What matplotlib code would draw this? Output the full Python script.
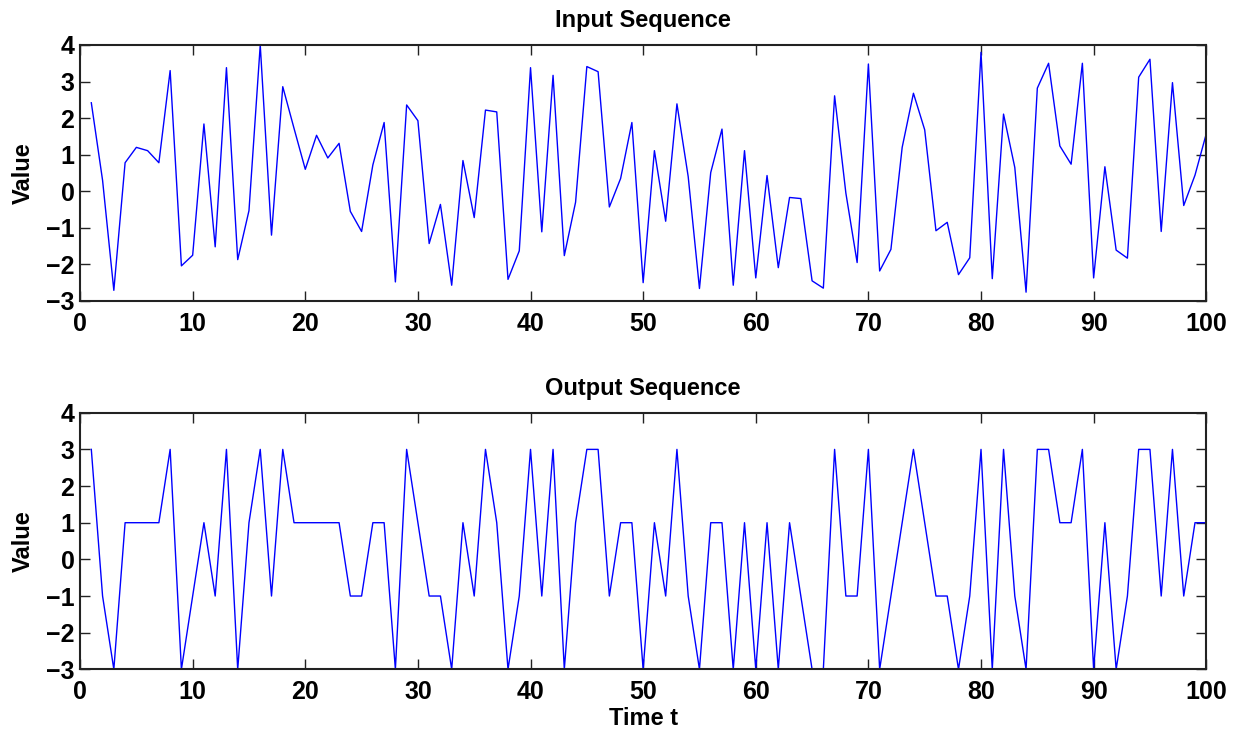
import numpy as np
import matplotlib
matplotlib.use("Agg")
import matplotlib.pyplot as plt

# time steps
t = np.arange(1, 101)

# input sequence
input_seq = [2.42, 0.3, -2.71, 0.78, 1.20, 1.11, 0.78, 3.30, -2.04, -1.75,
             1.84, -1.52, 3.38, -1.87, -0.53, 4.0, -1.2, 2.86, 1.72, 0.60,
             1.53, 0.91, 1.31, -0.55, -1.10, 0.72, 1.88, -2.48, 2.36, 1.93,
             -1.43, -0.36, -2.57, 0.84, -0.72, 2.22, 2.17, -2.41, -1.63, 3.38,
             -1.11, 3.17, -1.76, -0.30, 3.41, 3.27, -0.43, 0.35, 1.88, -2.50,
             1.11, -0.82, 2.39, 0.40, -2.66, 0.51, 1.70, -2.57, 1.11, -2.37,
             0.43, -2.09, -0.17, -0.20, -2.45, -2.65, 2.61, -0.05, -1.95, 3.48,
             -2.18, -1.59, 1.20, 2.68, 1.68, -1.08, -0.85, -2.28, -1.82, 3.80,
             -2.39, 2.11, 0.65, -2.76, 2.82, 3.50, 1.24, 0.74, 3.50, -2.37,
             0.67, -1.61, -1.83, 3.12, 3.61, -1.10, 2.97, -0.39, 0.44, 1.57]

# quantised output sequence
output_seq = [3, -1, -3, 1, 1, 1, 1, 3, -3, -1,
              1, -1, 3, -3, 1, 3, -1, 3, 1, 1,
              1, 1, 1, -1, -1, 1, 1, -3, 3, 1,
              -1, -1, -3, 1, -1, 3, 1, -3, -1, 3,
              -1, 3, -3, 1, 3, 3, -1, 1, 1, -3,
              1, -1, 3, -1, -3, 1, 1, -3, 1, -3,
              1, -3, 1, -1, -3, -3, 3, -1, -1, 3,
              -3, -1, 1, 3, 1, -1, -1, -3, -1, 3,
              -3, 3, -1, -3, 3, 3, 1, 1, 3, -3,
              1, -3, -1, 3, 3, -1, 3, -1, 1, 1]

plt.rcParams['font.family'] = ['Liberation Sans', 'DejaVu Sans']
plt.rcParams['font.weight'] = 'bold'

fig = plt.figure(figsize=(12.41, 7.34), dpi=100)
ax1 = fig.add_axes([0.0645, 0.590, 0.9075, 0.3487])
ax2 = fig.add_axes([0.0645, 0.0881, 0.9075, 0.3496])

panels = [(ax1, input_seq, "Input Sequence"), (ax2, output_seq, "Output Sequence")]
for ax, seq, title in panels:
    ax.plot(t, seq, color=(0, 0, 1), linewidth=1.0)
    ax.set_xlim(0, 100)
    ax.set_ylim(-3, 4)
    ax.set_xticks(range(0, 101, 10))
    ax.set_yticks(range(-3, 5))
    ax.set_title(title, fontsize=17, fontweight='bold', pad=13)
    ax.set_ylabel("Value", fontsize=17, fontweight='bold', labelpad=8)
    ax.tick_params(direction='in', length=7, width=1, top=True, right=True,
                   labelsize=18, colors='#222222', labelcolor='black')
    ax.tick_params(axis='x', pad=8)
    ax.tick_params(axis='y', pad=4)
    for lab in ax.get_xticklabels() + ax.get_yticklabels():
        lab.set_fontweight('bold')
    for s in ax.spines.values():
        s.set_linewidth(1.5)
        s.set_color('#222222')

ax2.set_xlabel("Time t", fontsize=17, fontweight='bold', labelpad=2)

fig.savefig("out.png", dpi=100)
